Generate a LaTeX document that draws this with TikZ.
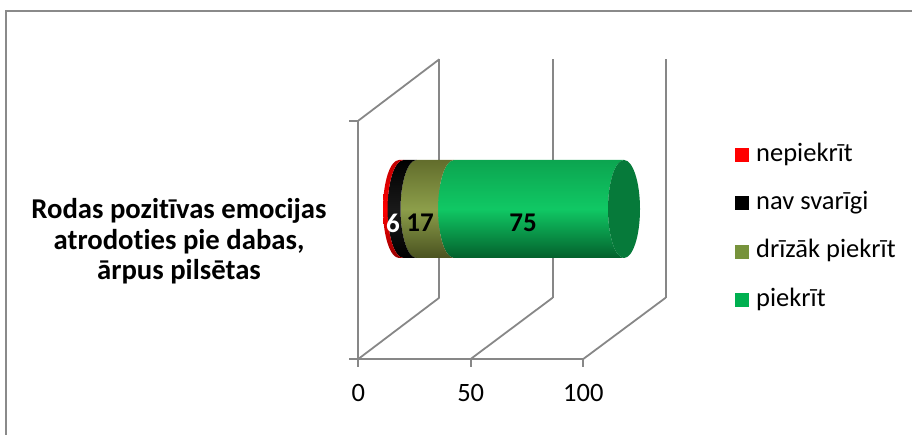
\documentclass[tikz,border=0pt]{standalone}
\usepackage{fontspec}
\setmainfont[Ligatures=NoCommon]{Carlito}
\begin{document}
\begin{tikzpicture}[x=1pt,y=1pt,
  grid/.style={draw=gridgray,line width=1.8pt},
  lbl/.style={font=\fontsize{26.5}{30}\selectfont,inner sep=0pt},
  val/.style={font=\fontsize{27}{30}\selectfont\bfseries,inner sep=0pt},
  ttl/.style={font=\fontsize{28.7}{31}\selectfont\bfseries,inner sep=0pt,anchor=base},
  key/.style={minimum width=14pt,minimum height=14pt,inner sep=0pt,draw=none}]
\definecolor{gridgray}{HTML}{878787}
\definecolor{framegray}{HTML}{8A8A8A}
\definecolor{cred}{HTML}{FF0000}
\definecolor{colive}{HTML}{77933C}
\definecolor{cgreen}{HTML}{00B050}
\definecolor{gtop}{HTML}{0CA550}
\definecolor{gmid}{HTML}{10C864}
\definecolor{gbot}{HTML}{03602C}
\definecolor{otop}{HTML}{626D2C}
\definecolor{omid}{HTML}{8C9E4A}
\definecolor{obot}{HTML}{4A5220}
\definecolor{capgreen}{HTML}{067A3A}
\useasboundingbox (0,0) rectangle (912,435);
% frame
\draw[framegray,line width=2pt] (6,0) -- (6,424) -- (912,424);
% walls and grid
\coordinate (f0b) at (358.3,76);
\coordinate (f50b) at (470.7,76);
\coordinate (f100b) at (583.3,76);
\coordinate (f0t) at (358.3,314.3);
\coordinate (b0b) at (439.3,137.3);
\coordinate (b50b) at (552.7,137.3);
\coordinate (b100b) at (665.7,137.3);
\coordinate (b0t) at (439.3,375.7);
\coordinate (b50t) at (552.7,375.7);
\coordinate (b100t) at (665.7,375.7);
\coordinate (tickL) at (349,314.3);
\coordinate (axL) at (349,76);
\draw[grid] (b0b) -- (b0t);
\draw[grid] (b50b) -- (b50t);
\draw[grid] (b100b) -- (b100t);
\draw[grid] (f0t) -- (b0t);
\draw[grid] (f0b) -- (b0b);
\draw[grid] (f50b) -- (b50b);
\draw[grid] (f100b) -- (b100b);
\draw[grid] (tickL) -- (f0t) -- (f0b);
\draw[grid] (axL) -- (f100b);
\draw[grid] (f0b) -- ++(0,-8.5);
\draw[grid] (f50b) -- ++(0,-8.5);
\draw[grid] (f100b) -- ++(0,-8.5);
% axis labels
\node[lbl] (l0) at (358.3,42) {0};
\node[lbl] (l50) at (470.7,42) {50};
\node[lbl] (l100) at (583.3,42) {100};
% cylinder segments
\def\cy{226}\def\ry{49}\def\rx{16}
\newcommand{\segpath}[2]{(#1,\cy+\ry) arc[start angle=90,end angle=270,x radius=\rx,y radius=\ry] -- (#2,\cy-\ry) arc[start angle=270,end angle=90,x radius=\rx,y radius=\ry] -- cycle}
\shade[top color=gtop,bottom color=gbot,middle color=gmid] \segpath{454}{624};
\fill[capgreen] (624,\cy) ellipse[x radius=\rx,y radius=\ry];
\shade[top color=otop,bottom color=obot,middle color=omid] \segpath{416.5}{454};
\shade[top color=black,bottom color=black,middle color=black!90!white] \segpath{403.5}{416.5};
\shade[top color=cred!75!black,bottom color=cred!60!black,middle color=cred] \segpath{399}{403.5};
% values
\node[val,text=white] (v6) at (393,212) {6};
\node[val] (v17) at (420,212) {17};
\node[val] (v75) at (523,212) {75};
% title
\node[ttl] (t1) at (179,216.7) {Rodas pozitīvas emocijas};
\node[ttl] (t2) at (179,185.5) {atrodoties pie dabas,};
\node[ttl] (t3) at (179,155) {ārpus pilsētas};
% legend
\node[key,fill=cred] (k1) at (741.5,279.7) {};
\node[key,fill=black] (k2) at (741.5,231.7) {};
\node[key,fill=colive] (k3) at (741.5,183.3) {};
\node[key,fill=cgreen] (k4) at (741.5,135) {};
\node[lbl,anchor=base west] (n1) at (756,273.3) {nepiekrīt};
\node[lbl,anchor=base west] (n2) at (756,225.3) {nav svarīgi};
\node[lbl,anchor=base west] (n3) at (756,177) {drīzāk piekrīt};
\node[lbl,anchor=base west] (n4) at (756,128.7) {piekrīt};
\end{tikzpicture}
\end{document}
